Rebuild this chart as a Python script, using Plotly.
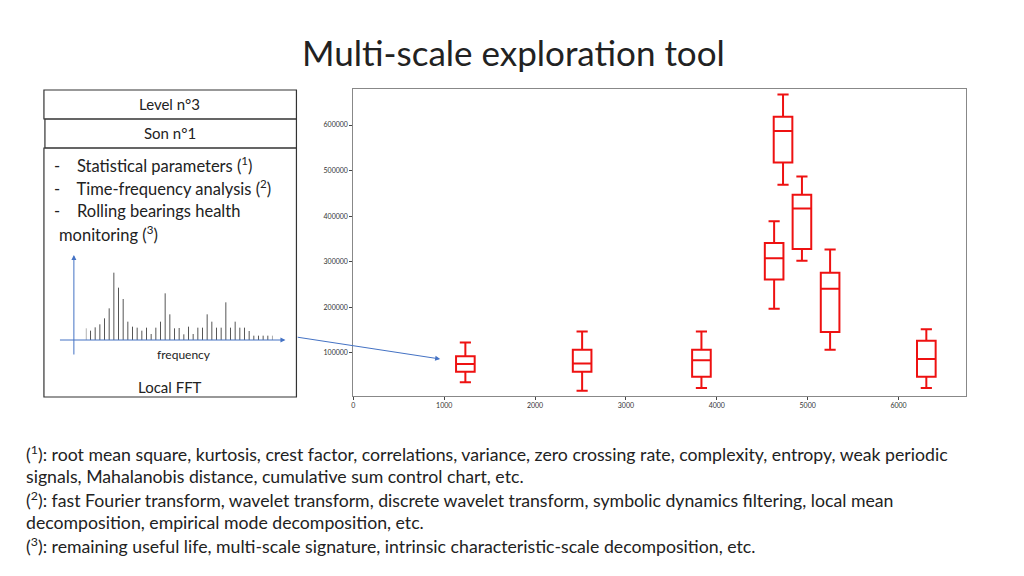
import plotly.graph_objects as go

positions = [1233, 2518, 3831, 4631, 4729, 4937, 5247, 6306]
lower = [36000, 17000, 23000, 197000, 469000, 302000, 107000, 23000]
q1 = [59000, 59000, 48000, 261000, 518000, 328000, 146000, 48000]
median = [76000, 77000, 84000, 308000, 587000, 417000, 241000, 87000]
q3 = [93000, 107000, 107000, 341000, 618000, 447000, 276000, 127000]
upper = [123000, 147000, 147000, 389000, 667000, 487000, 327000, 152000]

fft_heights = [35, 28, 38, 47, 65, 95, 202, 157, 123, 55, 40, 37, 28, 37, 18, 37, 55, 140, 77, 35,
               36, 17, 40, 18, 37, 37, 77, 55, 37, 37, 113, 37, 55, 37, 37, 27, 13, 13, 13, 13, 13]
fft_idx = list(range(1, len(fft_heights) + 1))

FONT = "Lato"
W, H = 1024, 576
OFF = 8
fig = go.Figure()
for i in range(len(positions)):
    fig.add_trace(go.Box(x=[positions[i]], q1=[q1[i]], median=[median[i]], q3=[q3[i]],
                         lowerfence=[lower[i]], upperfence=[upper[i]], width=205,
                         whiskerwidth=0.6, line=dict(color="#ee1111", width=2),
                         fillcolor="rgba(255,255,255,0)", showlegend=False, hoverinfo="skip"))

sx, sy = [], []
for i, h in zip(fft_idx, fft_heights):
    sx += [i, i, None]
    sy += [0, h / 3, None]
fig.add_trace(go.Scatter(x=sx, y=sy, mode="lines", line=dict(color="#555555", width=1),
                         xaxis="x2", yaxis="y2", showlegend=False, hoverinfo="skip"))

def px(x): return (x - OFF) / W
def py(y): return 1 - (y - OFF) / H

fig.update_layout(
    width=W, height=H, margin=dict(l=0, r=0, t=0, b=0),
    paper_bgcolor="white", plot_bgcolor="white", font=dict(family=FONT),
    xaxis=dict(domain=[px(352), px(966)], range=[0, 6744], tickvals=[0, 1000, 2000, 3000, 4000, 5000, 6000],
               ticks="outside", ticklen=3, tickfont=dict(size=7, color="#333"), showgrid=False,
               zeroline=False, showline=True, linecolor="#888", mirror=True),
    yaxis=dict(domain=[py(396), py(89)], range=[5600, 679000],
               tickvals=[100000, 200000, 300000, 400000, 500000, 600000], ticktext=["100000", "200000", "300000", "400000", "500000", "600000"],
               ticks="outside", ticklen=3, tickfont=dict(size=7, color="#333"), showgrid=False,
               zeroline=False, showline=True, linecolor="#888", mirror=True),
    xaxis2=dict(domain=[px(84), px(271)], range=[1, 41], visible=False, anchor="y2"),
    yaxis2=dict(domain=[py(340), py(255)], range=[0, 85], visible=False, anchor="x2"),
)

shapes = []
for (x0, y0, x1, y1) in [(42, 90, 295, 119), (43, 119, 295, 148), (42, 148, 295, 397)]:
    shapes.append(dict(type="rect", xref="paper", yref="paper", x0=px(x0), x1=px(x1), y0=py(y1), y1=py(y0),
                       line=dict(color="#333", width=1.2)))
fig.update_layout(shapes=shapes)

ann = []
def txt(x, y, s, size=15, anchor="center"):
    ann.append(dict(x=px(x), y=py(y), xref="paper", yref="paper", text=s, showarrow=False,
                    xanchor=anchor, yanchor="middle", font=dict(size=size, color="#222", family=FONT)))

txt(512, 52, "Multi-scale exploration tool", size=35)
txt(168, 104, "Level n°3", size=15)
txt(168, 133, "Son n°1", size=15)
txt(50, 165, "-    Statistical parameters (<sup>1</sup>)", anchor="left", size=16.5)
txt(50, 188, "-    Time-frequency analysis (<sup>2</sup>)", anchor="left", size=16.5)
txt(50, 211, "-    Rolling bearings health", anchor="left", size=16.5)
txt(55, 234, "monitoring (<sup>3</sup>)", anchor="left", size=16.5)
txt(182, 354, "frequency", size=12)
txt(168, 387, "Local FFT", size=15)
foot = [(453, "(<sup>1</sup>): root mean square, kurtosis, crest factor, correlations, variance, zero crossing rate, complexity, entropy, weak periodic"),
        (476, "signals, Mahalanobis distance, cumulative sum control chart, etc."),
        (499, "(<sup>2</sup>): fast Fourier transform, wavelet transform, discrete wavelet transform, symbolic dynamics filtering, local mean"),
        (522, "decomposition, empirical mode decomposition, etc."),
        (545, "(<sup>3</sup>): remaining useful life, multi-scale signature, intrinsic characteristic-scale decomposition, etc.")]
for y, s in foot:
    txt(22, y, s, size=17.7, anchor="left")

def arrow(x0, y0, x1, y1, w=1):
    ann.append(dict(x=px(x1), y=py(y1), xref="paper", yref="paper", ax=x0 - x1, ay=y0 - y1,
                    axref="pixel", ayref="pixel", text="", showarrow=True, arrowhead=2,
                    arrowsize=1, arrowwidth=w, arrowcolor="#4472c4"))
arrow(72, 356, 72, 255)
arrow(57, 340, 284, 340)
arrow(295, 337, 439, 359)
fig.update_layout(annotations=ann)

fig.write_html("out.html")
